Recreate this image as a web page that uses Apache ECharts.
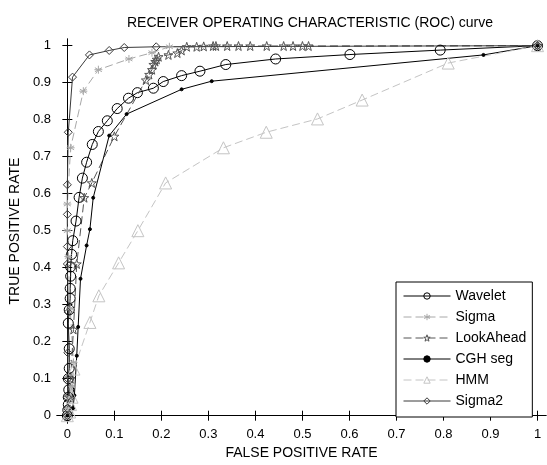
<!DOCTYPE html>
<html>
<head>
<meta charset="utf-8">
<script src="https://cdn.jsdelivr.net/npm/echarts@6/dist/echarts.min.js"></script>
<style>
html, body { margin: 0; padding: 0; background: #fff; }
#main { width: 547px; height: 465px; }
</style>
</head>
<body>
<div id="main"></div>
<script>
// tick positions on both axes
var xTicks = [0, 0.1, 0.2, 0.3, 0.4, 0.5, 0.6, 0.7, 0.8, 0.9, 1];
var yTicks = [0, 0.1, 0.2, 0.3, 0.4, 0.5, 0.6, 0.7, 0.8, 0.9, 1];

// [false positive rate, true positive rate]
var wavelet = [[0,0],[0.001,0.015],[0.002,0.03],[0.002,0.05],[0.003,0.07],[0.002,0.1],[0.004,0.128],
  [0.004,0.181],[0.002,0.25],[0.004,0.286],[0.006,0.317],[0.006,0.344],[0.007,0.377],[0.007,0.402],
  [0.009,0.436],[0.0115,0.473],[0.0185,0.526],[0.025,0.59],[0.032,0.642],[0.041,0.685],[0.053,0.733],
  [0.066,0.768],[0.085,0.797],[0.106,0.83],[0.13,0.858],[0.149,0.873],[0.183,0.885],[0.204,0.903],
  [0.243,0.919],[0.282,0.931],[0.337,0.949],[0.443,0.964],[0.601,0.976],[0.793,0.988],[1,1]];
var sigma = [[0,0],[0.003,0.02],[0.005,0.05],[0.01,0.08],[0.013,0.144],[0.006,0.29],[0.002,0.43],
  [0,0.5],[0,0.572],[0.007,0.724],[0.034,0.877],[0.066,0.935],[0.131,0.964],[0.18,0.981],
  [0.217,0.997],[1,1]];
var lookAhead = [[0,0],[0.002,0.02],[0.004,0.05],[0.007,0.1],[0.013,0.233],[0.02,0.41],[0.036,0.589],
  [0.052,0.629],[0.1,0.755],[0.167,0.907],[0.174,0.922],[0.18,0.935],[0.183,0.949],[0.187,0.957],
  [0.19,0.963],[0.194,0.97],[0.215,0.975],[0.234,0.98],[0.243,0.987],[0.254,0.997],[0.275,0.997],
  [0.29,0.998],[0.31,0.999],[0.316,0.999],[0.34,0.999],[0.364,0.999],[0.389,0.999],[0.424,0.999],
  [0.46,0.999],[0.48,0.999],[0.5,0.999],[0.513,0.999],[1,1]];
var cghSeg = [[0,0],[0.012,0.02],[0.015,0.055],[0.02,0.162],[0.023,0.24],[0.028,0.37],[0.041,0.46],
  [0.048,0.504],[0.055,0.589],[0.089,0.757],[0.126,0.815],[0.243,0.882],[0.307,0.904],[0.885,0.975],[1,1]];
var hmm = [[0,0],[0.005,0.01],[0.007,0.03],[0.01,0.05],[0.014,0.126],[0.048,0.252],[0.067,0.324],
  [0.109,0.413],[0.15,0.5],[0.209,0.629],[0.332,0.724],[0.423,0.766],[0.532,0.802],[0.627,0.853],
  [0.81,0.953],[1,1]];
var sigma2 = [[0,0],[0,0.02],[0,0.05],[0.001,0.1],[0.001,0.17],[0.002,0.28],[0,0.41],[0,0.457],
  [0,0.544],[0,0.624],[0.002,0.766],[0.011,0.915],[0.047,0.975],[0.089,0.987],[0.121,0.995],
  [0.189,0.997],[1,1]];

var starPath = 'path://M0,-10L2.35,-3.24L9.51,-3.09L3.8,1.24L5.88,8.09L0,4L-5.88,8.09L-3.8,1.24L-9.51,-3.09L-2.35,-3.24Z';
var asteriskPath = 'path://M0,-10L0,10M-8.66,-5L8.66,5M-8.66,5L8.66,-5M-10,0L10,0';

function tickLabel(v) {
    return String(Math.round(v * 10) / 10);
}

function lineSeries(name, data, color, dash, symbol, size, fill) {
    return {
        name: name,
        type: 'line',
        data: data,
        symbol: symbol,
        symbolSize: size,
        showAllSymbol: true,
        animation: false,
        lineStyle: { color: color, width: 1, type: dash },
        itemStyle: { color: fill, borderColor: color, borderWidth: 1 }
    };
}

var myChart = echarts.init(document.getElementById('main'));

var axisCommon = {
    type: 'value',
    axisLine: { show: true, lineStyle: { color: '#000', width: 1 } },
    axisTick: { show: true, inside: true, length: 5, lineStyle: { color: '#000' } },
    splitLine: { show: false }
};

myChart.setOption({
    backgroundColor: '#fff',
    title: {
        text: 'RECEIVER OPERATING CHARACTERISTIC (ROC) curve',
        left: 305,
        top: 11,
        textAlign: 'center',
        textStyle: { fontFamily: 'Liberation Sans', fontSize: 14, fontWeight: 'normal', color: '#000' }
    },
    grid: { left: 57, right: 1, top: 39, bottom: 37 },
    legend: {
        orient: 'vertical',
        left: 396,
        top: 282,
        padding: [6, 6, 8, 7],
        itemWidth: 47,
        itemHeight: 8,
        itemGap: 5,
        borderColor: '#000',
        borderWidth: 1,
        backgroundColor: '#fff',
        lineStyle: { width: 1 },
        itemStyle: { borderWidth: 1 },
        textStyle: { fontFamily: 'Liberation Sans', fontSize: 14, color: '#000', lineHeight: 16 },
        data: ['Wavelet', 'Sigma', 'LookAhead', 'CGH seg', 'HMM', 'Sigma2']
    },
    xAxis: [
        Object.assign({}, axisCommon, {
            min: -0.022, max: 1.018, position: 'bottom',
            name: 'FALSE POSITIVE RATE', nameLocation: 'middle', nameGap: 11,
            nameTextStyle: { fontFamily: 'Liberation Sans', fontSize: 14, color: '#000' },
            axisTick: Object.assign({}, axisCommon.axisTick, { customValues: xTicks }),
            axisLabel: { customValues: xTicks, formatter: tickLabel, margin: 5,
                fontFamily: 'Liberation Sans', fontSize: 13, color: '#000' }
        }),
        Object.assign({}, axisCommon, {
            min: -0.022, max: 1.018, position: 'top',
            axisTick: Object.assign({}, axisCommon.axisTick, { customValues: xTicks }),
            axisLabel: { show: false }
        })
    ],
    yAxis: [
        Object.assign({}, axisCommon, {
            min: -0.02, max: 1.018, position: 'left',
            name: 'TRUE POSITIVE RATE', nameLocation: 'middle', nameGap: 30,
            nameTextStyle: { fontFamily: 'Liberation Sans', fontSize: 14, color: '#000' },
            axisTick: Object.assign({}, axisCommon.axisTick, { customValues: yTicks }),
            axisLabel: { customValues: yTicks, formatter: tickLabel, margin: 6,
                fontFamily: 'Liberation Sans', fontSize: 13, color: '#000' }
        }),
        Object.assign({}, axisCommon, {
            min: -0.02, max: 1.018, position: 'right',
            axisTick: Object.assign({}, axisCommon.axisTick, { customValues: yTicks }),
            axisLabel: { show: false }
        })
    ],
    series: [
        lineSeries('Wavelet', wavelet, '#000', 'solid', 'circle', 10, 'transparent'),
        lineSeries('Sigma', sigma, '#a8a8a8', [8, 4], asteriskPath, 8, 'transparent'),
        lineSeries('LookAhead', lookAhead, '#555', [8, 4], starPath, 9, 'transparent'),
        lineSeries('CGH seg', cghSeg, '#000', 'solid', 'circle', 3, '#000'),
        lineSeries('HMM', hmm, '#c4c4c4', [8, 4], 'triangle', 12, 'transparent'),
        lineSeries('Sigma2', sigma2, '#3a3a3a', 'solid', 'diamond', 8, 'transparent')
    ]
});
</script>
</body>
</html>
